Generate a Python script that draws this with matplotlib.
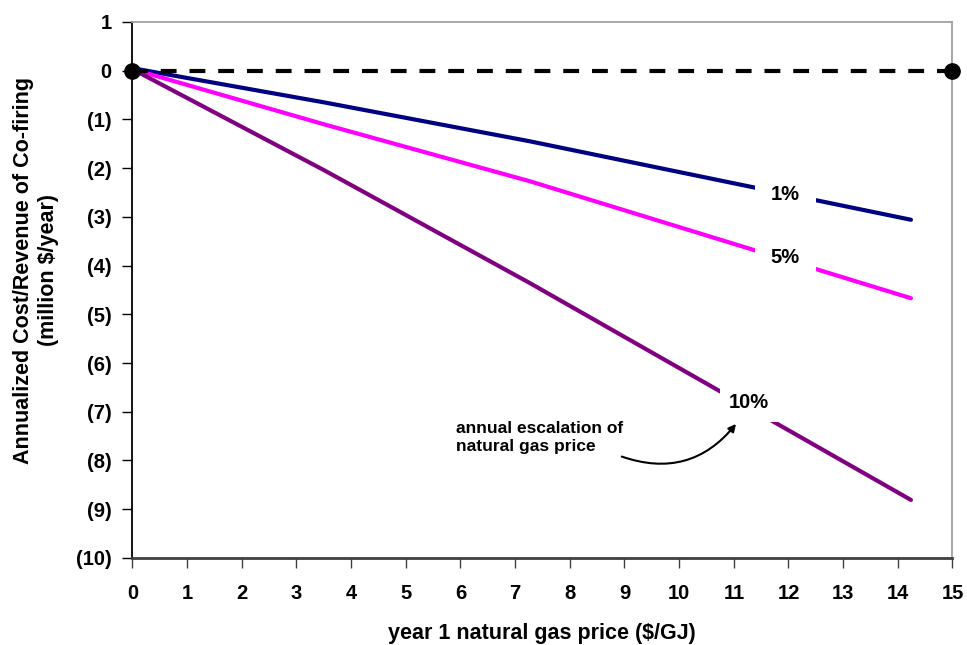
import matplotlib
matplotlib.use("Agg")
import matplotlib.pyplot as plt
from matplotlib.ticker import FixedLocator, FuncFormatter

plt.rcParams['font.family'] = ['Liberation Sans', 'DejaVu Sans']
plt.rcParams['font.weight'] = 'bold'

# year-1 natural gas price ($/GJ) at the plotted points
gas_price = [0.0, 3.5, 7.27, 14.24]

# annualized cost/revenue of co-firing (million $/year) per escalation rate
esc_1pct = [0.05, -0.65, -1.45, -3.06]
esc_5pct = [0.03, -1.10, -2.27, -4.67]
esc_10pct = [0.03, -2.04, -4.36, -8.81]

# break-even reference line
zero_x = [0, 15]
zero_y = [0, 0]

series_labels = ["1%", "5%", "10%"]
label_x = [11.94, 11.94, 11.28]
label_y = [-2.55, -3.84, -6.82]

note_text = "annual escalation of\nnatural gas price"

x_ticks = list(range(0, 16))
y_ticks = list(range(-10, 2))

fig = plt.figure(figsize=(9.67, 6.45), dpi=100)
ax = fig.add_axes([0.137, 0.135, 0.848, 0.831])

ax.plot(gas_price, esc_1pct, color="#000080", lw=3, solid_capstyle="round", zorder=3)
ax.plot(gas_price, esc_5pct, color="#FF00FF", lw=3, solid_capstyle="round", zorder=3)
ax.plot(gas_price, esc_10pct, color="#800080", lw=3, solid_capstyle="round", zorder=3)

ax.plot(zero_x, zero_y, color="black", lw=3, linestyle=(0, (3.8, 3.1)), zorder=4)
ax.plot(zero_x, zero_y, linestyle="none", marker="o", ms=11, color="black",
        clip_on=False, zorder=5)

# white boxes behind the rate labels interrupt the lines
box_pads = [0.8, 0.8, 0.45]
for txt, lx, ly, pad in zip(series_labels, label_x, label_y, box_pads):
    ax.text(lx, ly, txt, ha="center", va="center", fontsize=14.5, fontweight="bold",
            bbox=dict(boxstyle=f"square,pad={pad}", fc="white", ec="none"), zorder=6)

ax.text(5.91, -7.52, note_text, ha="left", va="center", fontsize=12.5,
        fontweight="bold", linespacing=1.25, zorder=6)
ax.annotate("", xy=(11.04, -7.25), xytext=(8.95, -7.92),
            arrowprops=dict(arrowstyle="-|>", color="black", lw=1.5,
                            mutation_scale=11, shrinkA=0, shrinkB=0,
                            connectionstyle="arc3,rad=0.35"),
            zorder=6)

ax.set_xlim(0, 15)
ax.set_ylim(-10, 1)
ax.xaxis.set_major_locator(FixedLocator(x_ticks))
ax.yaxis.set_major_locator(FixedLocator(y_ticks))


def paren_fmt(v, pos):
    v = int(round(v))
    return f"({-v})" if v < 0 else f"{v}"


ax.yaxis.set_major_formatter(FuncFormatter(paren_fmt))
ax.tick_params(axis="both", direction="out", length=7, width=1, labelsize=14.5,
               colors="black")
ax.tick_params(axis="x", pad=12, color="#404040")
ax.tick_params(axis="y", pad=8)
for lab in ax.get_xticklabels() + ax.get_yticklabels():
    lab.set_fontweight("bold")

ax.spines["left"].set_color("black")
ax.spines["left"].set_linewidth(1.3)
ax.spines["bottom"].set_color("#404040")
ax.spines["bottom"].set_linewidth(2)
ax.spines["top"].set_color("#A0A0A0")
ax.spines["right"].set_color("#A0A0A0")
ax.spines["top"].set_linewidth(1.3)
ax.spines["right"].set_linewidth(1.3)

fig.text(542 / 967, 1 - 634 / 645, "year 1 natural gas price ($/GJ)", ha="center",
         va="center", fontsize=15.5, fontweight="bold")
fig.text(36 / 967, 1 - 270 / 645, "Annualized Cost/Revenue of Co-firing\n(million $/year)",
         ha="center", va="center", rotation=90, fontsize=15.5, fontweight="bold",
         linespacing=1.3)

fig.savefig("out.png", dpi=100)
